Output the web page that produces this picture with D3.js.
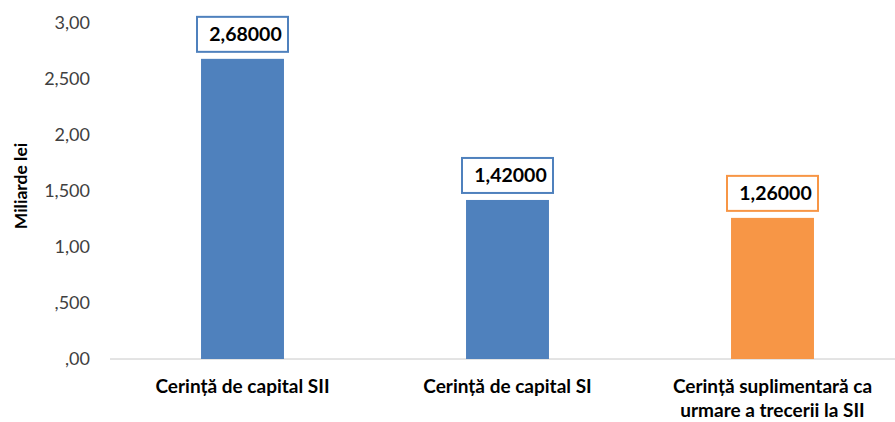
<!DOCTYPE html>
<html>
<head>
<meta charset="utf-8">
<script src="https://d3js.org/d3.v7.min.js"></script>
<style>
  body { margin: 0; background: #fff; }
  text { font-family: Lato, "Open Sans", sans-serif; }
</style>
</head>
<body>
<div id="chart"></div>
<script>
// data
var categories = ["Cerință de capital SII", "Cerință de capital SI", "Cerință suplimentară ca|urmare a trecerii la SII"];
var values = [2.68, 1.42, 1.26];
var labels = ["2,68000", "1,42000", "1,26000"];
var colors = ["#4F81BD", "#4F81BD", "#F79646"];
var tickValues = [0, 0.5, 1, 1.5, 2, 2.5, 3];
var tickLabels = [",00", ",500", "1,00", "1,500", "2,00", "2,500", "3,00"];

var width = 895, height = 422;

var svg = d3.select("#chart").append("svg")
  .attr("width", width)
  .attr("height", height);

var x = d3.scaleBand()
  .domain(categories)
  .range([110, 905])
  .paddingInner(0.687)
  .paddingOuter(0.3435);

var y = d3.scaleLinear()
  .domain([0, 3])
  .range([359, 23]);

// y axis labels
var yAxis = svg.append("g")
  .attr("transform", "translate(90,0)")
  .call(d3.axisLeft(y).tickValues(tickValues).tickSize(0).tickPadding(0)
    .tickFormat(function(d, i) { return tickLabels[i]; }));
yAxis.select(".domain").remove();
yAxis.selectAll("text")
  .style("font-family", "Lato, sans-serif")
  .style("font-size", "18px")
  .attr("fill", "#404040");

// baseline
svg.append("line")
  .attr("x1", 110).attr("x2", width)
  .attr("y1", y(0)).attr("y2", y(0))
  .attr("stroke", "#c8c8c8")
  .attr("stroke-width", 1);

// bars
svg.selectAll(".bar")
  .data(values)
  .enter()
  .append("rect")
  .attr("class", "bar")
  .attr("x", function(d, i) { return x(categories[i]); })
  .attr("width", x.bandwidth())
  .attr("y", function(d) { return y(d); })
  .attr("height", function(d) { return y(0) - y(d); })
  .attr("fill", function(d, i) { return colors[i]; });

// value label boxes
var boxW = 91, boxH = 35;
var lab = svg.selectAll(".lab")
  .data(values)
  .enter()
  .append("g")
  .attr("transform", function(d, i) {
    var cx = x(categories[i]) + x.bandwidth() / 2;
    return "translate(" + (cx - boxW / 2) + "," + (y(d) - 7 - boxH) + ")";
  });
lab.append("rect")
  .attr("width", boxW)
  .attr("height", boxH)
  .attr("fill", "#fff")
  .attr("stroke", function(d, i) { return colors[i]; })
  .attr("stroke-width", 2);
lab.append("text")
  .attr("x", boxW / 2 + 3)
  .attr("y", boxH / 2 + 7)
  .attr("text-anchor", "middle")
  .style("font-size", "19.5px")
  .style("font-weight", "bold")
  .attr("fill", "#000")
  .text(function(d, i) { return labels[i]; });

// category labels
svg.selectAll(".cat")
  .data(categories)
  .enter()
  .append("text")
  .attr("x", function(d) { return x(d) + x.bandwidth() / 2; })
  .attr("y", 393)
  .attr("text-anchor", "middle")
  .style("font-size", "19px")
  .style("font-weight", "bold")
  .attr("fill", "#000")
  .each(function(d) {
    var lines = d.split("|");
    var t = d3.select(this);
    lines.forEach(function(l, j) {
      t.append("tspan")
        .attr("x", x(d) + x.bandwidth() / 2)
        .attr("dy", j === 0 ? 0 : 24)
        .text(l);
    });
  });

// y axis title
svg.append("text")
  .attr("transform", "translate(27,186) rotate(-90)")
  .attr("text-anchor", "middle")
  .style("font-size", "17.5px")
  .style("font-weight", "bold")
  .attr("fill", "#000")
  .text("Miliarde lei");
</script>
</body>
</html>
